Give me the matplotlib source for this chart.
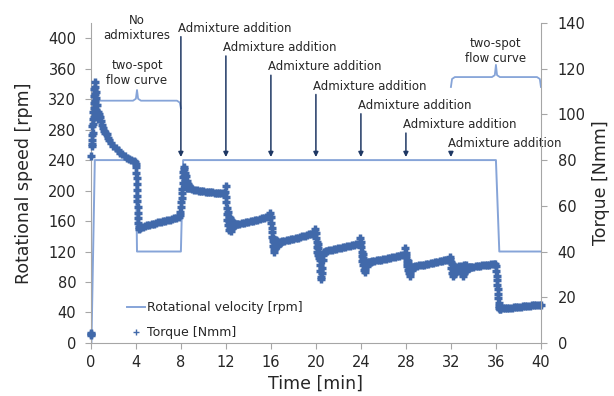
import matplotlib.pyplot as plt
from matplotlib.lines import Line2D

# rotational velocity set on the rheometer [rpm]
vel_time = [0, 0.05, 0.35, 4.0, 4.1, 8.0, 8.2, 36.0, 36.3, 40]
vel_rpm = [0, 0, 240, 240, 120, 120, 240, 240, 120, 120]

torque_time = [
    # start-up and first flow curve step
    0.0, 0.0, 0.02, 0.04, 0.06, 0.08, 0.1, 0.12, 0.14, 0.16, 0.18, 0.2, 0.22, 0.24, 0.26, 0.28,
    0.3, 0.32, 0.34, 0.36, 0.38, 0.4, 0.42, 0.44, 0.46, 0.5, 0.54, 0.58, 0.62, 0.66, 0.7, 0.75,
    0.8, 0.9, 1.0, 1.1, 1.2, 1.3, 1.4, 1.5, 1.6, 1.8, 2.0, 2.2, 2.4, 2.6, 2.8, 3.0, 3.2, 3.4,
    3.6, 3.8, 3.95,
    # second step 120 rpm
    4.0, 4.02, 4.04, 4.06, 4.08, 4.1, 4.12, 4.14, 4.16, 4.18, 4.2, 4.22, 4.25, 4.3, 4.35,
    4.4, 4.6, 4.8, 5.0, 5.2, 5.4, 5.6, 5.8, 6.0, 6.2, 6.4, 6.6, 6.8, 7.0, 7.2, 7.4, 7.6, 7.8,
    # 1st addition
    7.9, 7.95, 8.0, 8.03, 8.06, 8.09, 8.12, 8.15, 8.18, 8.21, 8.24, 8.27, 8.3, 8.33, 8.36,
    8.4, 8.44, 8.48, 8.52, 8.56, 8.6, 8.65, 8.7, 8.8, 8.9,
    9.0, 9.2, 9.4, 9.6, 9.8, 10.0, 10.2, 10.4, 10.6, 10.8, 11.0, 11.2, 11.4, 11.6, 11.8,
    # 2nd addition
    11.95, 12.0, 12.02, 12.05, 12.08, 12.11, 12.14, 12.17, 12.2, 12.24, 12.28, 12.32, 12.36,
    12.4, 12.45, 12.5, 12.55, 12.6, 12.65, 12.7, 12.8, 12.9, 13.0,
    13.2, 13.4, 13.6, 13.8, 14.0, 14.2, 14.4, 14.6, 14.8, 15.0, 15.2, 15.4, 15.6, 15.8,
    # 3rd addition
    15.9, 15.95, 16.0, 16.03, 16.06, 16.09, 16.12, 16.15, 16.18, 16.21, 16.24, 16.28, 16.32,
    16.36, 16.4, 16.45, 16.5, 16.55, 16.6, 16.7, 16.8, 16.9,
    17.0, 17.2, 17.4, 17.6, 17.8, 18.0, 18.2, 18.4, 18.6, 18.8, 19.0, 19.2, 19.4, 19.6, 19.8,
    # 4th addition
    19.9, 19.95, 20.0, 20.03, 20.06, 20.09, 20.12, 20.15, 20.18, 20.21, 20.24, 20.28, 20.32,
    20.36, 20.4, 20.44, 20.48, 20.52, 20.56, 20.6, 20.65, 20.7, 20.8, 20.9,
    21.0, 21.2, 21.4, 21.6, 21.8, 22.0, 22.2, 22.4, 22.6, 22.8, 23.0, 23.2, 23.4, 23.6, 23.8,
    # 5th addition
    23.9, 23.95, 24.0, 24.03, 24.06, 24.09, 24.12, 24.15, 24.18, 24.21, 24.24, 24.28, 24.32,
    24.36, 24.4, 24.45, 24.5, 24.55, 24.6, 24.7, 24.8, 24.9,
    25.0, 25.2, 25.4, 25.6, 25.8, 26.0, 26.2, 26.4, 26.6, 26.8, 27.0, 27.2, 27.4, 27.6, 27.8,
    # 6th addition
    27.9, 27.95, 28.0, 28.03, 28.06, 28.09, 28.12, 28.15, 28.18, 28.21, 28.24, 28.28, 28.32,
    28.36, 28.4, 28.45, 28.5, 28.55, 28.6, 28.7, 28.8,
    29.0, 29.2, 29.4, 29.6, 29.8, 30.0, 30.2, 30.4, 30.6, 30.8, 31.0, 31.2, 31.4, 31.6, 31.8,
    # 7th addition
    31.9, 31.95, 32.0, 32.04, 32.08, 32.12, 32.16, 32.2, 32.24, 32.28, 32.32, 32.36, 32.4,
    32.45, 32.5, 32.55, 32.6, 32.7, 32.8, 32.9, 33.0, 33.05, 33.1, 33.15, 33.2, 33.25, 33.3,
    33.35, 33.4, 33.5, 33.6,
    33.7, 33.8, 34.0, 34.2, 34.4, 34.6, 34.8, 35.0, 35.2, 35.4, 35.6, 35.8,
    # last flow curve step 120 rpm
    35.9, 36.0, 36.03, 36.06, 36.09, 36.12, 36.15, 36.18, 36.21, 36.24, 36.27, 36.3, 36.35,
    36.4, 36.6, 36.8, 37.0, 37.2, 37.4, 37.6, 37.8, 38.0, 38.2, 38.4, 38.6, 38.8, 39.0,
    39.2, 39.4, 39.6, 39.8, 40.0,
]
torque_nmm = [
    3.5, 4.5, 4.0, 82, 87, 91, 86, 95, 89, 98, 92, 101, 96, 105, 99, 108,
    103, 111, 106, 114, 109, 112, 104, 110, 102, 107, 100, 104, 98, 101, 99, 100,
    99, 97, 95.5, 94, 92.8, 91.7, 91.2, 89.8, 89, 87.5, 86.3, 85.2, 84.2, 83.3, 82.5, 81.8, 81.1, 80.5,
    79.9, 79.4, 79.0,
    78.5, 77, 74.5, 72, 69.5, 67, 64.5, 62, 59.5, 57, 54.5, 52.5, 50.8, 50.0, 50.6,
    50.3, 50.8, 51.1, 51.5, 51.7, 52.0, 52.2, 52.5, 52.7, 53.0, 53.2, 53.5, 53.7, 54.0, 54.2, 54.5, 54.7, 55.0,
    55.8, 57.5, 59.5, 61.5, 63.5, 65.5, 67.5, 70, 72.5, 75, 77, 73, 76, 71, 74.5,
    69.5, 73, 68.5, 71, 68, 69.5, 67.8, 68.6, 67.9, 67.6,
    67.3, 67.0, 66.8, 66.6, 66.4, 66.3, 66.2, 66.1, 66.0, 65.9, 65.8, 65.7, 65.6, 65.5, 65.5,
    65.9, 68.5, 64, 61.5, 59, 56.5, 54, 57.5, 51.5, 55, 49.5, 53.5, 50.5,
    54.5, 49, 52.5, 50.5, 53, 51, 52.3, 51.4, 52.1, 51.9,
    52.1, 52.3, 52.6, 52.8, 53.0, 53.3, 53.5, 53.8, 54.0, 54.2, 54.5, 54.7, 54.9, 55.2,
    55.3, 57, 55, 52.5, 50.5, 48.5, 46.5, 44.5, 42.5, 46, 41, 44, 40,
    43, 41.5, 45, 42.5, 44.5, 43, 44.2, 43.6, 44.3,
    44.4, 44.6, 44.9, 45.1, 45.4, 45.6, 45.9, 46.1, 46.4, 46.7, 46.9, 47.2, 47.5, 47.7, 48.0,
    48.2, 49.8, 48, 46, 44, 42, 40, 43.5, 38.5, 41.5, 37, 40, 36.5,
    34, 31.5, 29, 28, 30.5, 33, 36.5, 38.5, 39.6, 40.0, 40.2,
    40.4, 40.6, 40.8, 41.0, 41.2, 41.5, 41.7, 41.9, 42.1, 42.3, 42.5, 42.7, 42.9, 43.1, 43.3,
    43.5, 45.8, 44, 42, 40, 38, 36, 39, 34, 37, 32, 35.5, 31,
    34, 32.5, 35, 33.5, 35.2, 34.8, 35.5, 35.3, 35.6,
    35.7, 35.9, 36.1, 36.3, 36.5, 36.7, 36.9, 37.1, 37.3, 37.5, 37.7, 37.9, 38.1, 38.3, 38.5,
    38.7, 41.5, 39.5, 38, 36.5, 35, 33.5, 36, 32, 34.5, 30.5, 33, 29.5,
    32, 30.5, 33, 31.8, 33.2, 33.4, 33.3, 33.6,
    33.7, 33.9, 34.1, 34.3, 34.5, 34.7, 34.9, 35.1, 35.3, 35.5, 35.7, 35.9, 36.1, 36.3, 36.5,
    36.6, 37.5, 35.5, 33, 30.5, 34.5, 29.5, 32.5, 30, 33.8, 31, 33, 30.5,
    32.8, 31.8, 33.3, 32.2, 33.5, 32.6, 30.5, 33.8, 29.5, 32, 34.2, 30.5, 33, 31.5,
    34, 32.5, 33.2, 32.8,
    33.1, 33.3, 33.4, 33.5, 33.7, 33.8, 33.9, 34.0, 34.1, 34.3, 34.4, 34.5,
    34.6, 33.5, 31.5, 29.5, 27.5, 25.5, 23.5, 21.5, 19.5, 17.5, 16, 15.2, 14.8,
    15.0, 15.1, 15.2, 15.3, 15.4, 15.5, 15.6, 15.7, 15.8, 15.9, 16.0, 16.1, 16.2, 16.3,
    16.4, 16.5, 16.6, 16.7, 16.8,
]

# admixture additions [min]
admix_time = [8, 12, 16, 20, 24, 28, 32]
# two-spot flow curve intervals [min]
flow_curves = [(0.2, 8.0), (32.0, 40.0)]

line_c = "#86A4D8"
dot_c = "#4169AA"
arrow_c = "#1F3864"
grey = "#A6A6A6"
txt_c = "#262626"

fig = plt.figure(figsize=(6.14, 3.96), dpi=100)
ax = fig.add_axes([0.148, 0.134, 0.733, 0.808])
ax2 = ax.twinx()

ax.plot(vel_time, vel_rpm, color=line_c, lw=1.4)
ax2.plot(torque_time, torque_nmm, ls="none", marker="+", ms=5.8, mew=2.5,
         color=dot_c, clip_on=False)

ax.set_xlim(0, 40)
ax.set_ylim(0, 420)
ax2.set_ylim(0, 140)
ax.set_xticks(range(0, 41, 4))
ax.set_yticks(range(0, 401, 40))
ax2.set_yticks(range(0, 141, 20))

for a in (ax, ax2):
    a.spines["top"].set_visible(False)
    for s in a.spines.values():
        s.set_color(grey)
ax.spines["right"].set_visible(False)
ax2.spines["left"].set_visible(False)
ax2.spines["bottom"].set_visible(False)

ax.tick_params(axis="x", length=4, color=grey, labelsize=10.5, labelcolor=txt_c, pad=5)
ax.tick_params(axis="y", length=4, color=grey, labelsize=10.5, labelcolor=txt_c, pad=6.5)
ax2.tick_params(axis="y", length=4, color=grey, labelsize=10.5, labelcolor=txt_c, pad=8)

ax.set_xlabel("Time [min]", fontsize=12.5, color=txt_c)
ax.set_ylabel("Rotational speed [rpm]", fontsize=12.5, color=txt_c)
ax2.set_ylabel("Torque [Nmm]", fontsize=12.5, color=txt_c)
ax.xaxis.set_label_coords(0.5, -0.1)
ax.yaxis.set_label_coords(-0.129, 0.5)
ax2.yaxis.set_label_coords(1.113, 0.5)

# admixture arrows, labels stepping down
for i, t in enumerate(admix_time):
    y_txt = 413 - 25.3 * i
    ax.annotate("", xy=(t, 244), xytext=(t, y_txt - 11),
                arrowprops=dict(arrowstyle="-|>", color=arrow_c, lw=1.1,
                                mutation_scale=7, shrinkA=0, shrinkB=0),
                annotation_clip=False)
    ax.text(t - 0.25, y_txt, "Admixture addition", fontsize=8.5, color=txt_c,
            ha="left", va="center")


# curly braces over the flow curve parts
def brace(x0, x1, y, depth, height):
    xm = (x0 + x1) / 2
    xs = [x0, x0 + 0.1, x0 + 0.35, xm - 0.35, xm - 0.1, xm, xm + 0.1, xm + 0.35,
          x1 - 0.35, x1 - 0.1, x1]
    ys = [y - depth, y - 2.5, y, y, y + 2.5, y + height, y + 2.5, y, y, y - 2.5, y - depth]
    ax.plot(xs, ys, color=line_c, lw=1.3, clip_on=False)
    return xm


xm = brace(flow_curves[0][0], flow_curves[0][1], 318, 10, 14)
ax.text(xm, 354, "two-spot\nflow curve", fontsize=8.5, color=txt_c, ha="center", va="center")
ax.text(xm, 414, "No\nadmixtures", fontsize=8.5, color=txt_c, ha="center", va="center")
xm = brace(flow_curves[1][0], flow_curves[1][1], 349, 13, 16)
ax.text(xm, 383, "two-spot\nflow curve", fontsize=8.5, color=txt_c, ha="center", va="center")

handles = [Line2D([], [], color=line_c, lw=1.4),
           Line2D([], [], ls="none", marker="+", ms=5, mew=1.0, color=dot_c)]
leg = ax.legend(handles, ["Rotational velocity [rpm]", "Torque [Nmm]"],
                loc="upper left", bbox_to_anchor=(0.067, 0.15), frameon=False,
                fontsize=9, handlelength=1.4, handletextpad=0.2,
                labelspacing=0.95, borderpad=0)
for t in leg.get_texts():
    t.set_color(txt_c)

fig.savefig("out.png", dpi=100)
